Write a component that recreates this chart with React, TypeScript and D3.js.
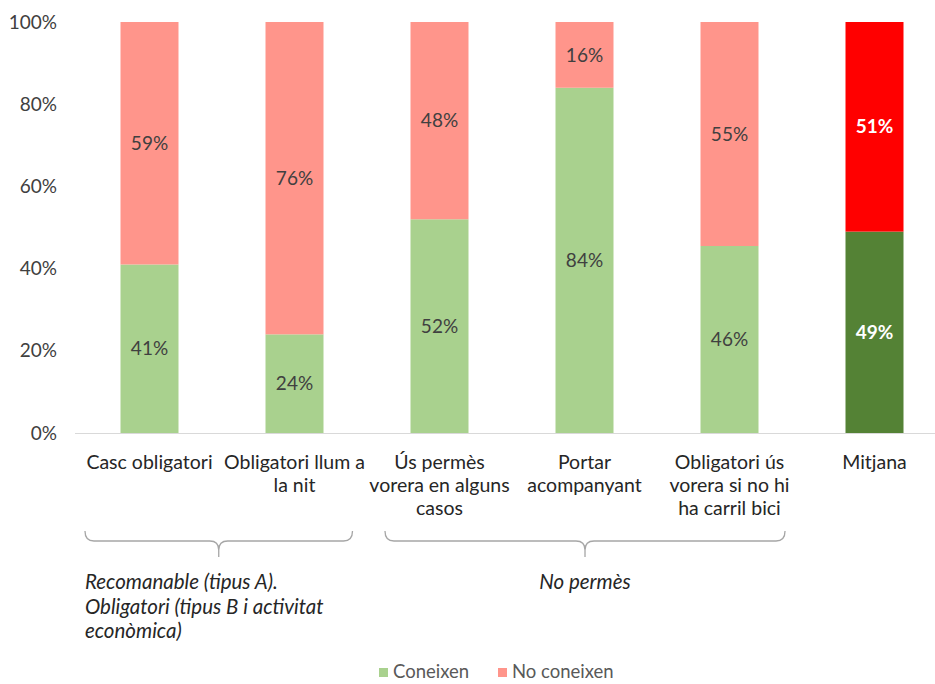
import * as d3 from 'd3'

const categories = ['Casc obligatori', 'Obligatori llum a la nit', 'Ús permès vorera en alguns casos', 'Portar acompanyant', 'Obligatori ús vorera si no hi ha carril bici', 'Mitjana']
const categoryLines = [
  ['Casc obligatori'],
  ['Obligatori llum a', 'la nit'],
  ['Ús permès', 'vorera en alguns', 'casos'],
  ['Portar', 'acompanyant'],
  ['Obligatori ús', 'vorera si no hi', 'ha carril bici'],
  ['Mitjana'],
]
const coneixen = [41, 24, 52, 84, 45.5, 49]
const noConeixen = [59, 76, 48, 16, 54.5, 51]
const yTicks = [0, 20, 40, 60, 80, 100]

const groups = [
  { from: 0, to: 1, lines: ['Recomanable (tipus A).', 'Obligatori (tipus B i activitat', 'econòmica)'], align: 'start' },
  { from: 2, to: 4, lines: ['No permès'], align: 'middle' },
]

const W = 935
const H = 684
const FONT = 'Lato, "Open Sans", sans-serif'

const light = { yes: '#a9d18e', no: '#ff958b', text: '#404040' }
const avg = { yes: '#548235', no: '#ff0000', text: '#ffffff' }

export default function App() {
  const x = d3.scaleBand<string>().domain(categories).range([77, 947]).paddingInner(0.6).paddingOuter(0.3)
  const y = d3.scaleLinear().domain([0, 100]).range([433, 22])
  const step = x.step()
  const cx = (i: number) => (x(categories[i]) as number) + x.bandwidth() / 2

  const rows = categories.map((c, i) => ({ c, yes: coneixen[i], no: noConeixen[i] }))
  const stack = d3.stack<any>().keys(['yes', 'no'])(rows)

  const bracePath = (x1: number, x2: number, xm: number) => {
    const y0 = 531, y1 = 541, y2 = 557, r = 9
    return `M${x1},${y0} Q${x1},${y1} ${x1 + r},${y1} L${xm - r},${y1} Q${xm},${y1} ${xm},${y1 + r} L${xm},${y2}` +
      ` M${x2},${y0} Q${x2},${y1} ${x2 - r},${y1} L${xm + r},${y1} Q${xm},${y1} ${xm},${y1 + r}`
  }

  return (
    <svg width={W} height={H} style={{ position: 'absolute', left: 0, top: 0, background: '#fff' }} fontFamily={FONT}>
      {yTicks.map(t => (
        <text key={t} x={57} y={y(t)} dy="0.35em" textAnchor="end" fontSize={19} fill="#404040">{t}%</text>
      ))}
      <line x1={75} x2={W} y1={y(0) + 0.5} y2={y(0) + 0.5} stroke="#d9d9d9" strokeWidth={1} />
      {stack.map(layer => layer.map((d, i) => {
        const isAvg = i === categories.length - 1
        const pal = isAvg ? avg : light
        const key = layer.key as 'yes' | 'no'
        const top = y(Math.min(d[1], 100))
        const bottom = y(d[0])
        const v = key === 'yes' ? coneixen[i] : noConeixen[i]
        return (
          <g key={layer.key + i}>
            <rect x={x(categories[i])} y={top} width={x.bandwidth()} height={bottom - top} fill={pal[key]} />
            <text x={cx(i)} y={(top + bottom) / 2} dy="0.35em"
              textAnchor="middle" fontSize={19} fill={pal.text} fontWeight={isAvg ? 700 : 400}>{Math.round(v)}%</text>
          </g>
        )
      }))}
      {categoryLines.map((lines, i) => (
        <text key={i} textAnchor="middle" fontSize={19.5} fill="#262626">
          {lines.map((l, j) => (
            <tspan key={j} x={cx(i)} y={469 + j * 23}>{l}</tspan>
          ))}
        </text>
      ))}
      {groups.map((g, k) => {
        const x1 = cx(g.from) - step * (k === 0 ? 0.445 : 0.376)
        const x2 = cx(g.to) + step * (k === 0 ? 0.40 : 0.383)
        const xm = (x1 + x2) / 2
        return (
          <g key={k}>
            <path d={bracePath(x1, x2, xm)} fill="none" stroke="#a6a6a6" strokeWidth={1.3} />
            <text fontSize={20.5} fontStyle="italic" fill="#262626" textAnchor={g.align}>
              {g.lines.map((l, j) => (
                <tspan key={j} x={g.align === 'start' ? x1 : xm} y={589 + j * 24.5}>{l}</tspan>
              ))}
            </text>
          </g>
        )
      })}
      <g fontSize={18.5} fill="#595959">
        <rect x={379} y={668} width={9} height={9} fill={light.yes} />
        <text x={393} y={678}>Coneixen</text>
        <rect x={498} y={668} width={9} height={9} fill={light.no} />
        <text x={512} y={678}>No coneixen</text>
      </g>
    </svg>
  )
}
